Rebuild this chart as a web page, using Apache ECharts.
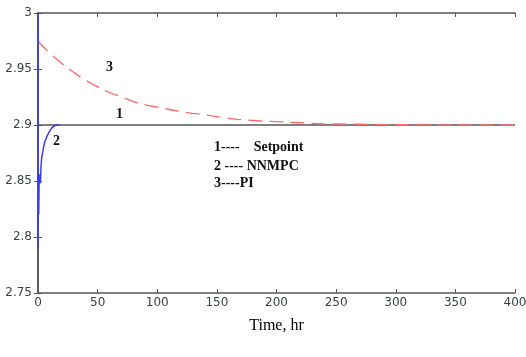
<!DOCTYPE html>
<html>
<head>
<meta charset="utf-8">
<script src="https://cdn.jsdelivr.net/npm/echarts@6/dist/echarts.min.js"></script>
<style>
html, body { margin: 0; padding: 0; background: #fff; }
#chart { width: 526px; height: 357px; }
</style>
</head>
<body>
<div id="chart"></div>
<script>
// time (hr) and values
const setpointTime = [0, 400];
const setpointVal = [2.9, 2.9];

const nnmpcTime = [0, 0, 0.3, 0.6, 1, 1.5, 2, 2.5, 3, 4, 5, 6, 8, 10, 12, 15, 18];
const nnmpcVal = [3.0, 2.79, 2.855, 2.82, 2.856, 2.85, 2.848, 2.862, 2.87, 2.876, 2.882, 2.886, 2.891, 2.895, 2.898, 2.9, 2.9];

const piTime = [0, 10, 20, 30, 40, 50, 60, 70, 80, 90, 100, 120, 140, 160, 180, 200, 220, 240, 260, 280, 300, 320, 340, 360, 380, 400];
const piVal = [2.975, 2.964, 2.955, 2.947, 2.940, 2.934, 2.929, 2.925, 2.921, 2.918, 2.916, 2.912, 2.909, 2.906, 2.904, 2.903, 2.902, 2.901, 2.9008, 2.9005, 2.9003, 2.9002, 2.9001, 2.9, 2.9, 2.9];

const xTicks = { min: 0, max: 400, interval: 50 };
const yTicks = { min: 2.75, max: 3, interval: 0.05 };

const pairs = (xs, ys) => xs.map((x, i) => [x, ys[i]]);

const myChart = echarts.init(document.getElementById('chart'));

const labelStyle = { color: '#3a3f4a', fontFamily: 'DejaVu Sans', fontSize: 12 };
const lineStyle = { color: '#555', width: 1.5 };
const tick = { show: true, inside: true, length: 4, lineStyle: { color: '#555' } };

const option = {
	animation: false,
	backgroundColor: '#fff',
	grid: { left: 38, right: 11, top: 13, bottom: 64, outerBoundsMode: 'none', containLabel: false },
	xAxis: [
	{
		type: 'value',
		min: xTicks.min, max: xTicks.max, interval: xTicks.interval,
		axisLine: { lineStyle: lineStyle },
		axisTick: tick,
		axisLabel: Object.assign({ margin: 4, hideOverlap: false }, labelStyle),
		splitLine: { show: false },
		name: 'Time, hr',
		nameLocation: 'middle',
		nameGap: 25,
		nameTextStyle: { fontFamily: 'Liberation Serif', fontSize: 16, color: '#000' }
	},
	{
		type: 'value', position: 'top',
		min: xTicks.min, max: xTicks.max, interval: xTicks.interval,
		axisLine: { lineStyle: lineStyle },
		axisTick: tick,
		axisLabel: { show: false },
		splitLine: { show: false }
	}
	],
	yAxis: [
	{
		type: 'value',
		min: yTicks.min, max: yTicks.max, interval: yTicks.interval,
		axisLine: { show: true, lineStyle: lineStyle },
		axisTick: tick,
		axisLabel: Object.assign({ margin: 6, formatter: v => String(+v.toFixed(2)) }, labelStyle),
		splitLine: { show: false }
	},
	{
		type: 'value', position: 'right',
		min: yTicks.min, max: yTicks.max, interval: yTicks.interval,
		axisLine: { show: true, lineStyle: lineStyle },
		axisTick: tick,
		axisLabel: { show: false },
		splitLine: { show: false }
	}
	],
	series: [
	{
		name: 'NNMPC',
		type: 'line',
		data: pairs(nnmpcTime, nnmpcVal),
		showSymbol: false,
		lineStyle: { color: '#3b3bf0', width: 1.5 },
		z: 5
	},
	{
		name: 'PI',
		type: 'line',
		data: pairs(piTime, piVal),
		showSymbol: false,
		smooth: true,
		lineStyle: { color: '#ff6a6a', width: 1.3, type: [14, 7] },
		z: 4
	},
	{
		name: 'Setpoint',
		type: 'line',
		data: pairs(setpointTime, setpointVal),
		showSymbol: false,
		lineStyle: { color: '#555', width: 1.5 },
		z: 3
	}
	],
	graphic: [
		{ type: 'text', left: 106, top: 60, style: { text: '3', font: 'bold 14px "Liberation Serif"', fill: '#111' } },
		{ type: 'text', left: 116, top: 107, style: { text: '1', font: 'bold 14px "Liberation Serif"', fill: '#111' } },
		{ type: 'text', left: 53, top: 134, style: { text: '2', font: 'bold 14px "Liberation Serif"', fill: '#111' } },
		{ type: 'text', left: 214, top: 140, style: { text: '1----    Setpoint', font: 'bold 14px "Liberation Serif"', fill: '#111' } },
		{ type: 'text', left: 214, top: 159, style: { text: '2 ---- NNMPC', font: 'bold 14px "Liberation Serif"', fill: '#111' } },
		{ type: 'text', left: 214, top: 176, style: { text: '3----PI', font: 'bold 14px "Liberation Serif"', fill: '#111' } }
	]
};

myChart.setOption(option);
</script>
</body>
</html>
